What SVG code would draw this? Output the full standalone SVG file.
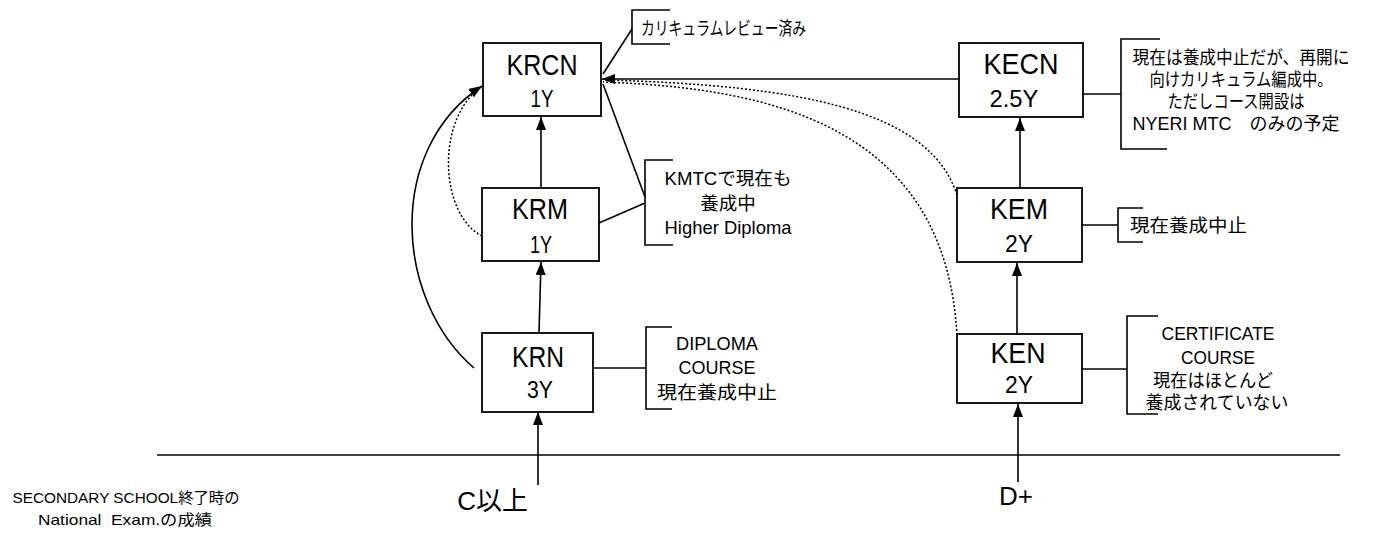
<svg xmlns="http://www.w3.org/2000/svg" width="1395" height="538" viewBox="0 0 1395 538">
<style>
text{font-family:"Liberation Sans","Noto Sans CJK JP",sans-serif;fill:#000}
.box{fill:#fff;stroke:#000;stroke-width:1.8}
.t1{font-size:30px;text-anchor:middle}
.t2{font-size:23px;text-anchor:middle}
.c{font-size:18.5px}
.m{text-anchor:middle}
.ln{fill:none;stroke:#000;stroke-width:1.6}
.dot{fill:none;stroke:#000;stroke-width:1.5;stroke-dasharray:2 2}
.arr{fill:none;stroke:#000;stroke-width:1.6;marker-end:url(#ah)}
.big{font-size:26px}
.small{font-size:15px}
</style>
<defs>
<marker id="ah" markerUnits="userSpaceOnUse" markerWidth="14" markerHeight="10" refX="13" refY="5" orient="auto">
<path d="M0,0 L13,5 L0,10 z" fill="#000"/>
</marker>
</defs>
<rect width="1395" height="538" fill="#fff"/>

<g id="connectors">
<line class="arr" x1="541" y1="188" x2="541" y2="117"/>
<line class="arr" x1="539" y1="333" x2="541" y2="262"/>
<line class="arr" x1="538" y1="485" x2="538" y2="412"/>
<line class="arr" x1="1020" y1="188" x2="1020" y2="118"/>
<line class="arr" x1="1017" y1="334" x2="1017" y2="263"/>
<line class="arr" x1="1018" y1="482" x2="1018" y2="404"/>
<line class="arr" x1="959" y1="79" x2="602" y2="79"/>
<path class="dot" d="M957,195 C930,110 800,85 603,80"/>
<path class="dot" d="M957,335 C945,125 770,88 603,82"/>
<path class="dot" d="M482,236 C440,215 435,120 481,87"/>
<path class="arr" d="M474,368 C395,300 385,150 482,86"/>
<line class="ln" x1="603" y1="74" x2="632" y2="29"/>
<line class="ln" x1="603" y1="84" x2="645" y2="197"/>
<line class="ln" x1="599" y1="223" x2="645" y2="203"/>
<line class="ln" x1="593" y1="368" x2="646" y2="368"/>
<line class="ln" x1="1083" y1="94" x2="1121" y2="94"/>
<line class="ln" x1="1082" y1="225" x2="1118" y2="225"/>
<line class="ln" x1="1082" y1="369" x2="1127" y2="369"/>
<line class="ln" x1="157" y1="455" x2="1340" y2="455"/>
</g>

<g id="KRCN">
<rect class="box" x="483" y="43" width="118" height="73"/>
<text class="t1" x="542" y="75" textLength="71" lengthAdjust="spacingAndGlyphs">KRCN</text>
<text class="t2" x="542" y="107" textLength="23" lengthAdjust="spacingAndGlyphs">1Y</text>
</g>
<g id="KRM">
<rect class="box" x="482" y="188" width="117" height="73"/>
<text class="t1" x="540" y="219" textLength="56" lengthAdjust="spacingAndGlyphs">KRM</text>
<text class="t2" x="541" y="253" textLength="22" lengthAdjust="spacingAndGlyphs">1Y</text>
</g>
<g id="KRN">
<rect class="box" x="482" y="333" width="111" height="79"/>
<text class="t1" x="538" y="367" textLength="52" lengthAdjust="spacingAndGlyphs">KRN</text>
<text class="t2" x="540" y="398" textLength="26" lengthAdjust="spacingAndGlyphs">3Y</text>
</g>
<g id="KECN">
<rect class="box" x="959" y="43" width="124" height="74"/>
<text class="t1" x="1021" y="74" textLength="75" lengthAdjust="spacingAndGlyphs">KECN</text>
<text class="t2" x="1014" y="107" textLength="49" lengthAdjust="spacingAndGlyphs">2.5Y</text>
</g>
<g id="KEM">
<rect class="box" x="957" y="188" width="125" height="74"/>
<text class="t1" x="1019" y="219" textLength="58" lengthAdjust="spacingAndGlyphs">KEM</text>
<text class="t2" x="1019" y="252" textLength="28" lengthAdjust="spacingAndGlyphs">2Y</text>
</g>
<g id="KEN">
<rect class="box" x="957" y="334" width="125" height="69"/>
<text class="t1" x="1018" y="363" textLength="55" lengthAdjust="spacingAndGlyphs">KEN</text>
<text class="t2" x="1019" y="393" textLength="28" lengthAdjust="spacingAndGlyphs">2Y</text>
</g>

<g id="note-KRCN">
<polyline class="ln" points="670,10 632,10 632,44 670,44"/>
<text class="c" x="641" y="35" textLength="165" lengthAdjust="spacingAndGlyphs">カリキュラムレビュー済み</text>
</g>
<g id="note-KRM">
<polyline class="ln" points="673,160 645,160 645,245 673,245"/>
<text class="c m" x="728" y="185" textLength="127" lengthAdjust="spacingAndGlyphs">KMTCで現在も</text>
<text class="c m" x="728" y="210">養成中</text>
<text class="c m" x="728" y="234" textLength="127" lengthAdjust="spacingAndGlyphs">Higher Diploma</text>
</g>
<g id="note-KRN">
<polyline class="ln" points="672,327 646,327 646,409 672,409"/>
<text class="c m" x="717" y="350" textLength="82" lengthAdjust="spacingAndGlyphs">DIPLOMA</text>
<text class="c m" x="717" y="374" textLength="77" lengthAdjust="spacingAndGlyphs">COURSE</text>
<text class="c m" x="717" y="399" textLength="120" lengthAdjust="spacingAndGlyphs">現在養成中止</text>
</g>
<g id="note-KECN">
<polyline class="ln" points="1160,39 1121,39 1121,149 1167,149"/>
<text class="c m" x="1241" y="64" textLength="217" lengthAdjust="spacingAndGlyphs">現在は養成中止だが、再開に</text>
<text class="c m" x="1241" y="86" textLength="183" lengthAdjust="spacingAndGlyphs">向けカリキュラム編成中。</text>
<text class="c m" x="1236" y="108" textLength="137" lengthAdjust="spacingAndGlyphs">ただしコース開設は</text>
<text class="c m" x="1236" y="130" textLength="207" lengthAdjust="spacingAndGlyphs">NYERI MTC　のみの予定</text>
</g>
<g id="note-KEM">
<polyline class="ln" points="1143,208 1118,208 1118,242 1143,242"/>
<text class="c" x="1130" y="232" textLength="117" lengthAdjust="spacingAndGlyphs">現在養成中止</text>
</g>
<g id="note-KEN">
<polyline class="ln" points="1158,316 1127,316 1127,414 1158,414"/>
<text class="c m" x="1218" y="340" textLength="113" lengthAdjust="spacingAndGlyphs">CERTIFICATE</text>
<text class="c m" x="1218" y="364" textLength="74" lengthAdjust="spacingAndGlyphs">COURSE</text>
<text class="c m" x="1213" y="387" textLength="120" lengthAdjust="spacingAndGlyphs">現在はほとんど</text>
<text class="c m" x="1217" y="409" textLength="143" lengthAdjust="spacingAndGlyphs">養成されていない</text>
</g>

<g id="entry-C">
<text class="big" x="528" y="510" text-anchor="end">C以上</text>
</g>
<g id="entry-D">
<text class="big" x="999" y="505">D+</text>
</g>
<g id="axis-label">
<text class="small m" x="126" y="503" textLength="227" lengthAdjust="spacingAndGlyphs">SECONDARY SCHOOL終了時の</text>
<text class="small m" x="125" y="525" textLength="174" lengthAdjust="spacingAndGlyphs" xml:space="preserve">National  Exam.の成績</text>
</g>
</svg>
